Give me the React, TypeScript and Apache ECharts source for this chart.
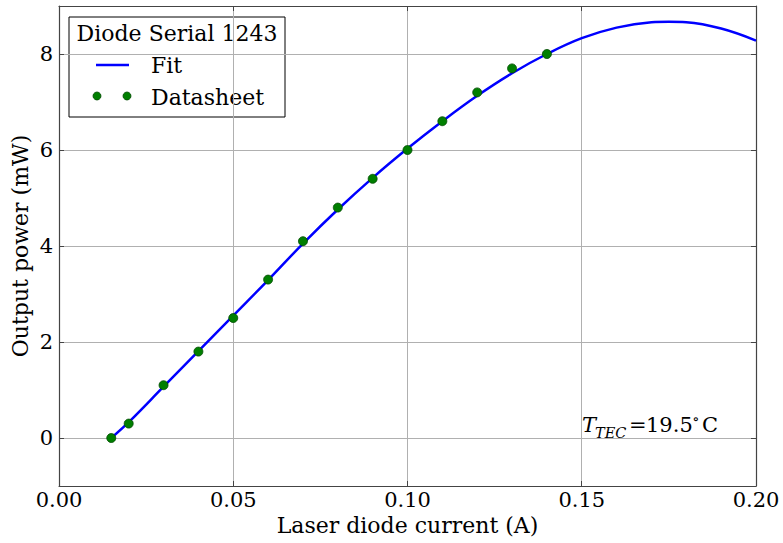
import React, { useEffect, useRef } from "react";
import * as echarts from "echarts";

// Datasheet points
const dataX = [0.015, 0.02, 0.03, 0.04, 0.05, 0.06, 0.07, 0.08, 0.09, 0.1, 0.11, 0.12, 0.13, 0.14];
const dataY = [0.0, 0.3, 1.1, 1.8, 2.5, 3.3, 4.1, 4.8, 5.4, 6.0, 6.6, 7.2, 7.7, 8.0];

// Fit curve
const fitX = [0.015, 0.02, 0.03, 0.04, 0.05, 0.06, 0.07, 0.08, 0.09, 0.1, 0.11, 0.12, 0.13, 0.14, 0.15, 0.16, 0.17, 0.175, 0.18, 0.19, 0.2];
const fitY = [0.0, 0.33, 1.07, 1.81, 2.55, 3.29, 4.05, 4.76, 5.42, 6.03, 6.6, 7.13, 7.6, 8.0, 8.33, 8.55, 8.66, 8.67, 8.66, 8.53, 8.28];

const xTicks = [0, 0.05, 0.1, 0.15, 0.2];
const yTicks = [0, 2, 4, 6, 8];

const FONT = "DejaVu Serif";
const FRAME = "#444444";
const GRID = "#b0b0b0";

export default function App() {
  const ref = useRef<HTMLDivElement>(null);
  useEffect(() => {
    if (!ref.current) return;
    const chart = echarts.init(ref.current, null, { renderer: "svg" });
    const frameAxisLine = { show: true, onZero: false, lineStyle: { color: FRAME, width: 1.2 } };
    const tick = { show: true, inside: true, length: 5, lineStyle: { color: FRAME, width: 1 } };
    const yFmt = (v: number) => (yTicks.indexOf(Math.round(v * 1000) / 1000) >= 0 ? String(v) : "");
    chart.setOption({
      animation: false,
      backgroundColor: "#ffffff",
      grid: { left: 59, right: 27, top: 6, bottom: 57, containLabel: false, outerBoundsMode: "none" },
      xAxis: [
        {
          type: "value",
          min: 0,
          max: 0.2,
          interval: 0.05,
          name: "Laser diode current (A)",
          nameLocation: "middle",
          nameGap: 28,
          nameMoveOverlap: false,
          nameTextStyle: { fontFamily: FONT, fontSize: 22, color: "#000" },
          axisLine: frameAxisLine,
          axisTick: tick,
          axisLabel: {
            fontFamily: FONT,
            fontSize: 21,
            color: "#000",
            margin: 3,
            formatter: (v: number) => (xTicks.some((t) => Math.abs(t - v) < 1e-9) ? v.toFixed(2) : ""),
          },
          splitLine: { show: true, lineStyle: { color: GRID, width: 1 } },
        },
        {
          type: "value",
          position: "top",
          min: 0,
          max: 0.2,
          interval: 0.05,
          axisLine: frameAxisLine,
          axisTick: tick,
          axisLabel: { show: false },
          splitLine: { show: false },
        },
      ],
      yAxis: [
        {
          type: "value",
          min: -1,
          max: 9,
          splitNumber: 5,
          name: "Output power (mW)",
          nameLocation: "middle",
          nameGap: 28,
          nameMoveOverlap: false,
          nameTextStyle: { fontFamily: FONT, fontSize: 22, color: "#000" },
          axisLine: frameAxisLine,
          axisTick: tick,
          axisLabel: { fontFamily: FONT, fontSize: 21, color: "#000", margin: 6, formatter: yFmt },
          splitLine: { show: true, lineStyle: { color: GRID, width: 1 } },
        },
        {
          type: "value",
          position: "right",
          min: -1,
          max: 9,
          splitNumber: 5,
          axisLine: frameAxisLine,
          axisTick: tick,
          axisLabel: { show: false },
          splitLine: { show: false },
        },
      ],
      series: [
        {
          name: "Fit",
          type: "line",
          xAxisIndex: 0,
          yAxisIndex: 0,
          data: fitX.map((x, i) => [x, fitY[i]]),
          smooth: 0.4,
          showSymbol: false,
          lineStyle: { color: "#0000ff", width: 2.5 },
          z: 3,
        },
        {
          name: "Datasheet",
          type: "scatter",
          xAxisIndex: 0,
          yAxisIndex: 0,
          data: dataX.map((x, i) => [x, dataY[i]]),
          symbolSize: 9,
          itemStyle: { color: "#007f00", borderColor: "#004a00", borderWidth: 0.8, opacity: 1 },
          z: 4,
        },
      ],
      graphic: [
        {
          type: "group",
          z: 100,
          children: [
            {
              type: "rect",
              shape: { x: 69, y: 17, width: 216, height: 100 },
              style: { fill: "#ffffff", stroke: "#000000", lineWidth: 1 },
            },
            {
              type: "text",
              x: 177,
              y: 33,
              style: { text: "Diode Serial 1243", fontFamily: FONT, fontSize: 22, fill: "#000", align: "center", verticalAlign: "middle" },
            },
            {
              type: "line",
              shape: { x1: 96, y1: 65, x2: 129, y2: 65 },
              style: { stroke: "#0000ff", lineWidth: 2.5 },
            },
            {
              type: "text",
              x: 151,
              y: 65,
              style: { text: "Fit", fontFamily: FONT, fontSize: 22, fill: "#000", align: "left", verticalAlign: "middle" },
            },
            {
              type: "circle",
              shape: { cx: 97, cy: 96, r: 4 },
              style: { fill: "#007f00", stroke: "#004a00", lineWidth: 0.8 },
            },
            {
              type: "circle",
              shape: { cx: 127, cy: 96, r: 4 },
              style: { fill: "#007f00", stroke: "#004a00", lineWidth: 0.8 },
            },
            {
              type: "text",
              x: 151,
              y: 97,
              style: { text: "Datasheet", fontFamily: FONT, fontSize: 22, fill: "#000", align: "left", verticalAlign: "middle" },
            },
          ],
        },
        {
          type: "group",
          z: 100,
          children: [
            { type: "text", x: 582, y: 425, style: { text: "T", fontFamily: FONT, fontStyle: "italic", fontSize: 21, fill: "#000", verticalAlign: "middle" } },
            { type: "text", x: 595, y: 433, style: { text: "TEC", fontFamily: FONT, fontStyle: "italic", fontSize: 14.5, fill: "#000", verticalAlign: "middle" } },
            { type: "text", x: 629, y: 425, style: { text: "=", fontFamily: FONT, fontSize: 21, fill: "#000", verticalAlign: "middle" } },
            { type: "text", x: 646, y: 425, style: { text: "19.5", fontFamily: FONT, fontSize: 21, fill: "#000", verticalAlign: "middle" } },
            { type: "text", x: 692, y: 419, style: { text: "∘", fontFamily: FONT, fontSize: 15, fill: "#000", verticalAlign: "middle" } },
            { type: "text", x: 702, y: 425, style: { text: "C", fontFamily: FONT, fontSize: 21, fill: "#000", verticalAlign: "middle" } },
          ],
        },
      ],
    });
    return () => chart.dispose();
  }, []);
  return <div ref={ref} style={{ width: 783, height: 543, position: "absolute", left: 0, top: 0 }} />;
}
